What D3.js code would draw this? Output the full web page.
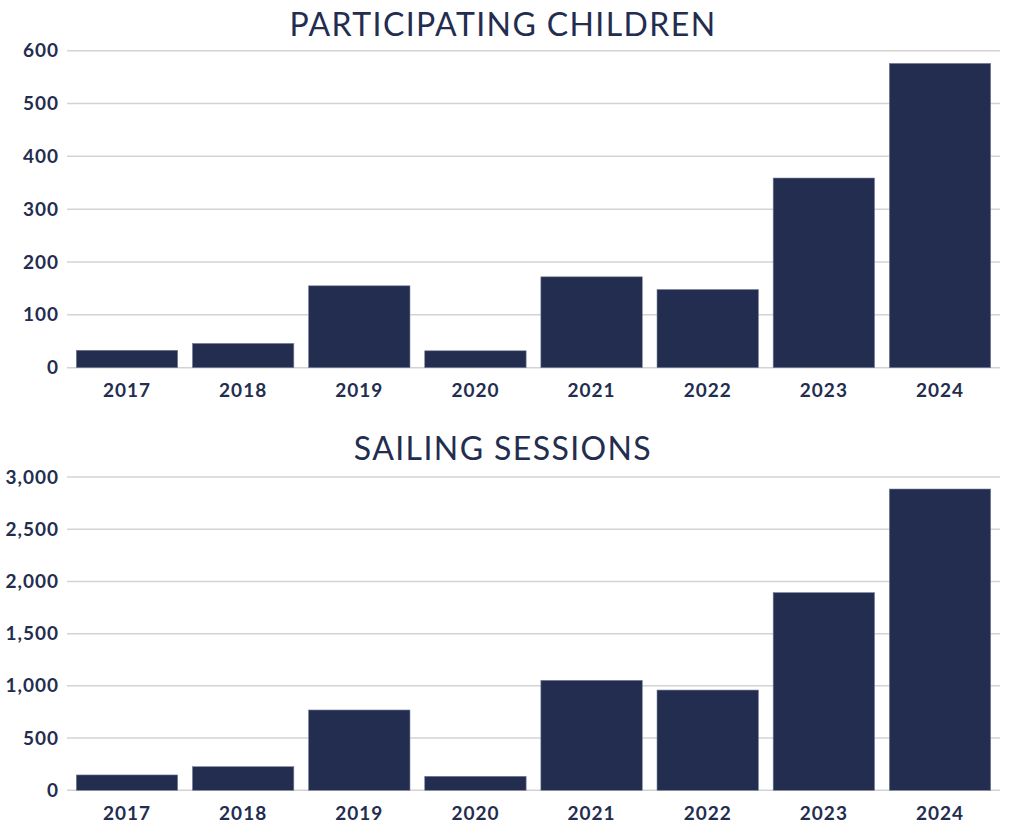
<!DOCTYPE html>
<meta charset="utf-8">
<script src="https://d3js.org/d3.v7.min.js"></script>
<style>
  body { margin: 0; background: #fff; }
  text { fill: #232d4f; }
</style>
<div id="chart"></div>
<script>
// data
const years = ["2017", "2018", "2019", "2020", "2021", "2022", "2023", "2024"];
const children = [33, 46, 155, 32, 172, 148, 359, 576];
const sessions = [147, 226, 769, 134, 1053, 960, 1893, 2885];
const childTicks = [0, 100, 200, 300, 400, 500, 600];
const sessionTicks = [0, 500, 1000, 1500, 2000, 2500, 3000];

const W = 1024, H = 834;
const navy = "#232d4f";

const svg = d3.select("#chart").append("svg")
  .attr("width", W).attr("height", H);

const x = d3.scaleBand()
  .domain(years)
  .range([67, 1000])
  .paddingInner(0.127)
  .paddingOuter(0.08);

function drawChart(title, values, ticks, yTop, yBottom, titleY) {
  const g = svg.append("g");
  const y = d3.scaleLinear()
    .domain([0, d3.max(ticks)])
    .range([yBottom, yTop]);

  // title
  g.append("text")
    .attr("x", 503).attr("y", titleY)
    .attr("text-anchor", "middle")
    .style("font-family", "Lato, sans-serif")
    .style("font-size", "32px")
    .style("letter-spacing", "1.4px")
    .text(title);

  // gridlines
  g.selectAll("line.grid")
    .data(ticks)
    .join("line")
      .attr("class", "grid")
      .attr("x1", 67).attr("x2", 1000)
      .attr("y1", d => y(d)).attr("y2", d => y(d))
      .style("stroke", "#d3d3d3")
      .style("stroke-width", 1.5);

  // y axis labels
  const yAxis = d3.axisLeft(y)
    .tickValues(ticks)
    .tickSize(0)
    .tickPadding(8)
    .tickFormat(d3.format(","));
  g.append("g")
    .attr("transform", "translate(67,0)")
    .call(yAxis)
    .call(a => a.select(".domain").remove())
    .selectAll("text")
      .style("font-family", "Lato, sans-serif")
      .style("font-weight", "bold")
      .style("font-size", "19px")
      .style("letter-spacing", "1px")
      .style("fill", navy);

  // bars
  g.selectAll("rect")
    .data(values)
    .join("rect")
      .attr("x", (d, i) => x(years[i]))
      .attr("width", x.bandwidth())
      .attr("y", d => y(d))
      .attr("height", d => yBottom - y(d))
      .style("fill", navy)
      .style("stroke", "#7a819a")
      .style("stroke-width", 0.6);

  // x axis labels
  const xAxis = d3.axisBottom(x).tickSize(0).tickPadding(16);
  g.append("g")
    .attr("transform", `translate(0,${yBottom})`)
    .call(xAxis)
    .call(a => a.select(".domain").remove())
    .selectAll("text")
      .style("font-family", "Lato, sans-serif")
      .style("font-weight", "bold")
      .style("font-size", "19px")
      .style("letter-spacing", "1px")
      .style("fill", navy);
}

drawChart("PARTICIPATING CHILDREN", children, childTicks, 50.7, 367.7, 36);
drawChart("SAILING SESSIONS", sessions, sessionTicks, 477, 790.3, 460);
</script>
